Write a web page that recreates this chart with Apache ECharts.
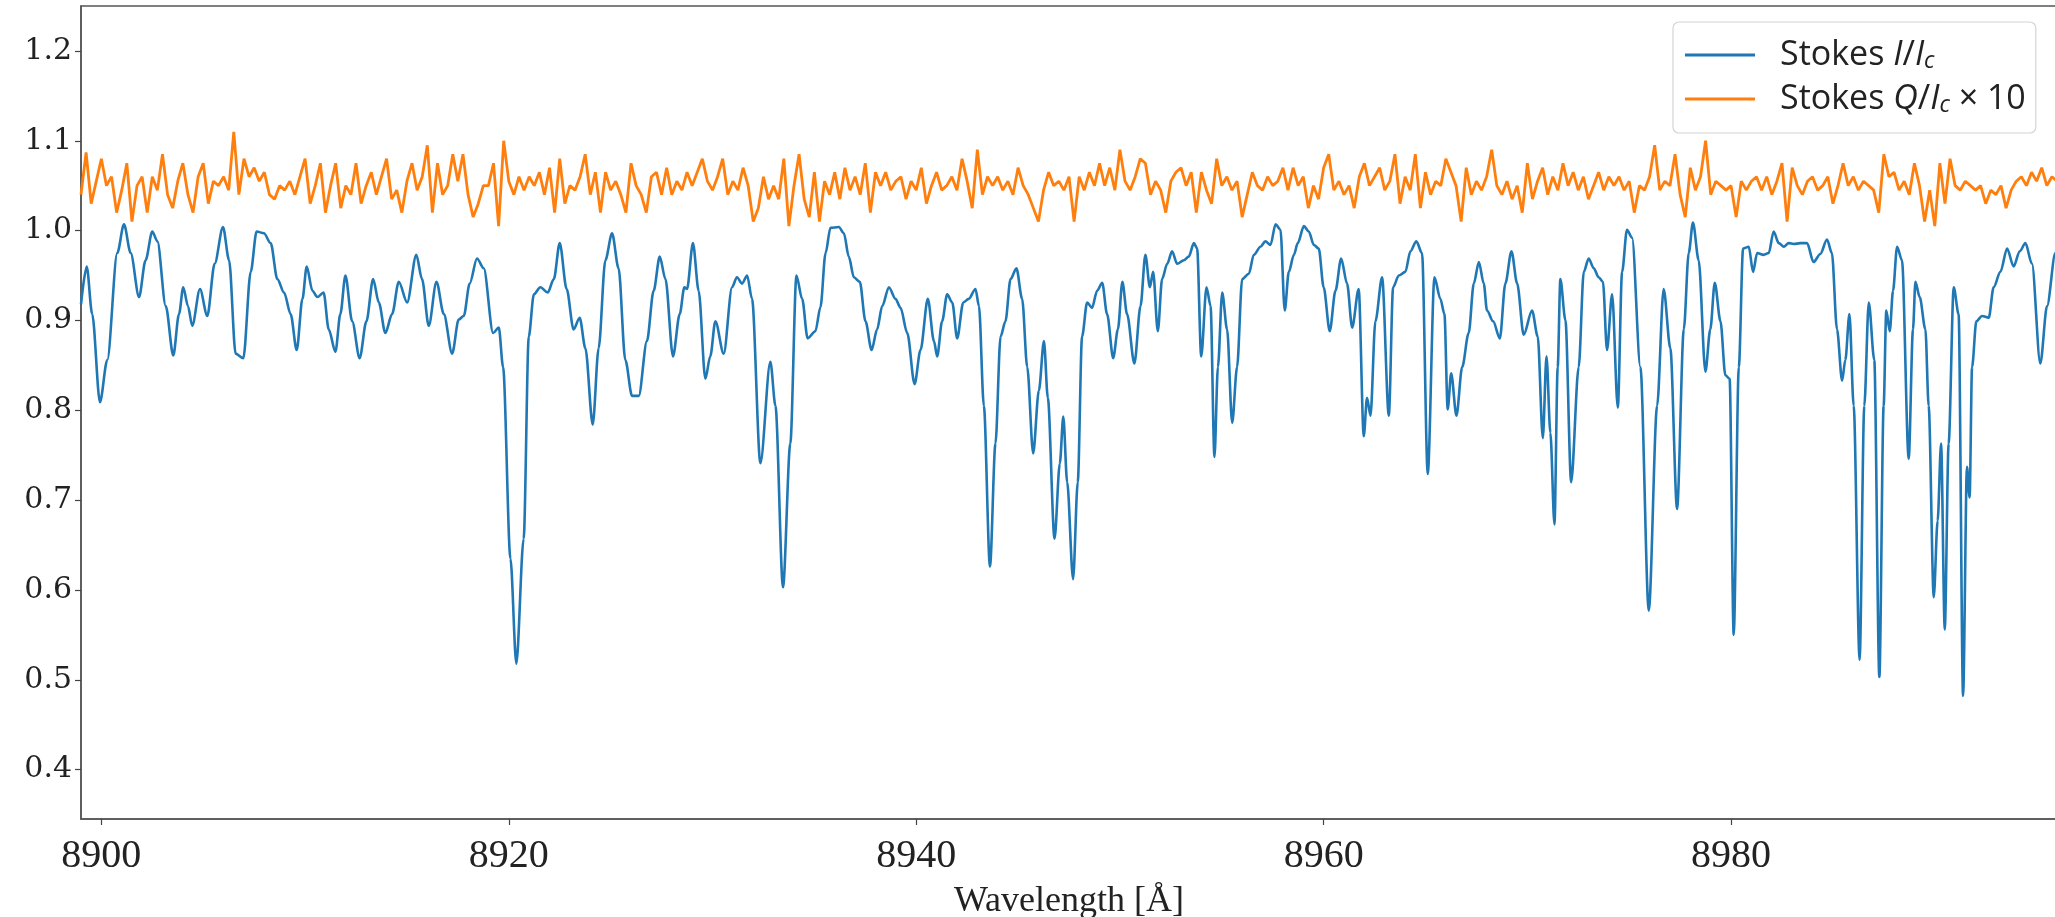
<!DOCTYPE html>
<html>
<head>
<meta charset="utf-8">
<title>Stokes spectrum</title>
<script src="https://cdn.jsdelivr.net/npm/echarts@6/dist/echarts.min.js"></script>
<style>
  html, body { margin: 0; padding: 0; background: #fff; }
  #chart { width: 2055px; height: 917px; }
</style>
</head>
<body>
<div id="chart"></div>
<script>
// Stokes I/Ic (wavelength in Angstrom)
var iWave = [
  8899.00, 8899.28, 8899.55, 8899.93, 8900.29, 8900.78, 8901.11, 8901.44,
  8901.85, 8902.17, 8902.50, 8902.75, 8903.16, 8903.53, 8903.81, 8904.02,
  8904.25, 8904.46, 8904.84, 8905.20, 8905.56, 8905.97, 8906.27, 8906.59,
  8906.97, 8907.33, 8907.62, 8907.98, 8908.31, 8908.64, 8908.97, 8909.29,
  8909.59, 8909.87, 8910.08, 8910.36, 8910.60, 8910.91, 8911.16, 8911.49,
  8911.73, 8911.98, 8912.31, 8912.68, 8913.01, 8913.34, 8913.62, 8913.94,
  8914.27, 8914.60, 8915.01, 8915.46, 8915.74, 8916.07, 8916.45, 8916.81,
  8917.22, 8917.54, 8917.79, 8918.08, 8918.44, 8918.77, 8919.23, 8919.51,
  8919.72, 8920.08, 8920.37, 8920.73, 8920.98, 8921.23, 8921.55, 8921.91,
  8922.21, 8922.50, 8922.84, 8923.18, 8923.48, 8923.76, 8924.12, 8924.41,
  8924.74, 8925.07, 8925.39, 8925.72, 8926.05, 8926.38, 8926.78, 8927.11,
  8927.41, 8927.69, 8928.06, 8928.39, 8928.62, 8928.75, 8929.04, 8929.32,
  8929.65, 8929.89, 8930.14, 8930.55, 8930.96, 8931.20, 8931.45, 8931.70,
  8931.94, 8932.35, 8932.84, 8933.09, 8933.46, 8933.82, 8934.12, 8934.40,
  8934.67, 8935.05, 8935.30, 8935.55, 8935.79, 8936.20, 8936.45, 8936.69,
  8936.94, 8937.23, 8937.51, 8937.81, 8938.08, 8938.33, 8938.66, 8938.98,
  8939.23, 8939.56, 8939.92, 8940.21, 8940.57, 8940.87, 8941.03, 8941.27,
  8941.52, 8941.77, 8942.01, 8942.31, 8942.58, 8942.91, 8943.08, 8943.32,
  8943.62, 8943.89, 8944.14, 8944.38, 8944.63, 8944.92, 8945.20, 8945.45,
  8945.74, 8946.02, 8946.27, 8946.46, 8946.79, 8947.05, 8947.22, 8947.41,
  8947.70, 8947.93, 8948.14, 8948.39, 8948.63, 8948.88, 8949.13, 8949.37,
  8949.67, 8949.90, 8950.12, 8950.35, 8950.71, 8951.01, 8951.25, 8951.47,
  8951.63, 8951.86, 8952.07, 8952.32, 8952.56, 8952.81, 8953.14, 8953.38,
  8953.63, 8953.79, 8953.99, 8954.25, 8954.45, 8954.64, 8954.81, 8955.02,
  8955.26, 8955.51, 8955.75, 8956.00, 8956.33, 8956.57, 8956.90, 8957.14,
  8957.39, 8957.64, 8957.88, 8958.09, 8958.29, 8958.54, 8958.73, 8959.03,
  8959.27, 8959.52, 8959.76, 8960.00, 8960.30, 8960.58, 8960.86, 8961.15,
  8961.40, 8961.72, 8961.97, 8962.13, 8962.30, 8962.54, 8962.87, 8963.20,
  8963.41, 8963.69, 8964.01, 8964.26, 8964.55, 8964.83, 8965.11, 8965.44,
  8965.73, 8965.93, 8966.09, 8966.26, 8966.52, 8966.80, 8967.12, 8967.37,
  8967.62, 8967.86, 8968.02, 8968.32, 8968.65, 8968.92, 8969.22, 8969.50,
  8969.82, 8970.23, 8970.51, 8970.76, 8970.94, 8971.13, 8971.33, 8971.49,
  8971.62, 8971.87, 8972.15, 8972.52, 8972.77, 8973.01, 8973.26, 8973.50,
  8973.71, 8973.91, 8974.16, 8974.44, 8974.65, 8974.89, 8975.14, 8975.55,
  8975.96, 8976.37, 8976.69, 8977.02, 8977.35, 8977.68, 8977.92, 8978.13,
  8978.41, 8978.74, 8978.98, 8979.20, 8979.48, 8979.72, 8979.93, 8980.13,
  8980.38, 8980.59, 8980.87, 8981.08, 8981.28, 8981.60, 8981.85, 8982.09,
  8982.34, 8982.59, 8982.83, 8983.08, 8983.40, 8983.73, 8984.05, 8984.38,
  8984.71, 8984.95, 8985.20, 8985.45, 8985.61, 8985.81, 8986.02, 8986.31,
  8986.54, 8986.76, 8987.03, 8987.28, 8987.49, 8987.62, 8987.79, 8987.95,
  8988.15, 8988.39, 8988.72, 8988.93, 8989.05, 8989.26, 8989.54, 8989.70,
  8989.95, 8990.14, 8990.31, 8990.49, 8990.68, 8990.93, 8991.17, 8991.39,
  8991.58, 8991.71, 8991.83, 8992.04, 8992.32, 8992.65, 8992.89, 8993.22,
  8993.55, 8993.87, 8994.17, 8994.45, 8994.77, 8995.18, 8995.51, 8995.92,
  8996.00
];
var iFlux = [
  0.918, 0.960, 0.907, 0.809, 0.856, 0.975, 1.007, 0.975,
  0.926, 0.967, 0.999, 0.988, 0.916, 0.861, 0.907, 0.937,
  0.916, 0.894, 0.935, 0.905, 0.963, 1.004, 0.967, 0.863,
  0.858, 0.954, 0.999, 0.997, 0.986, 0.946, 0.931, 0.907,
  0.867, 0.924, 0.960, 0.933, 0.926, 0.931, 0.890, 0.865,
  0.907, 0.950, 0.899, 0.858, 0.899, 0.946, 0.920, 0.886,
  0.907, 0.943, 0.920, 0.973, 0.946, 0.894, 0.943, 0.907,
  0.863, 0.901, 0.905, 0.941, 0.969, 0.958, 0.886, 0.892,
  0.848, 0.635, 0.518, 0.657, 0.882, 0.929, 0.937, 0.931,
  0.946, 0.986, 0.935, 0.890, 0.903, 0.869, 0.784, 0.869,
  0.967, 0.997, 0.958, 0.856, 0.816, 0.816, 0.877, 0.933,
  0.971, 0.946, 0.860, 0.907, 0.937, 0.935, 0.986, 0.933,
  0.835, 0.860, 0.899, 0.863, 0.937, 0.948, 0.941, 0.950,
  0.924, 0.741, 0.854, 0.805, 0.603, 0.763, 0.950, 0.924,
  0.880, 0.888, 0.915, 0.975, 1.003, 1.004, 0.997, 0.971,
  0.948, 0.943, 0.899, 0.867, 0.890, 0.916, 0.937, 0.924,
  0.914, 0.886, 0.829, 0.867, 0.924, 0.877, 0.860, 0.899,
  0.929, 0.920, 0.880, 0.920, 0.924, 0.935, 0.916, 0.805,
  0.626, 0.763, 0.882, 0.899, 0.946, 0.958, 0.924, 0.848,
  0.752, 0.822, 0.877, 0.814, 0.657, 0.741, 0.793, 0.720,
  0.612, 0.720, 0.882, 0.920, 0.914, 0.933, 0.942, 0.907,
  0.858, 0.890, 0.943, 0.907, 0.852, 0.916, 0.973, 0.937,
  0.954, 0.888, 0.946, 0.963, 0.977, 0.963, 0.967, 0.971,
  0.986, 0.980, 0.860, 0.937, 0.916, 0.748, 0.848, 0.931,
  0.890, 0.786, 0.848, 0.946, 0.952, 0.973, 0.982, 0.988,
  0.984, 1.007, 1.001, 0.911, 0.954, 0.973, 0.986, 1.005,
  0.999, 0.984, 0.980, 0.937, 0.888, 0.933, 0.969, 0.941,
  0.892, 0.935, 0.771, 0.814, 0.794, 0.899, 0.948, 0.794,
  0.937, 0.950, 0.954, 0.977, 0.988, 0.975, 0.729, 0.948,
  0.924, 0.907, 0.801, 0.841, 0.794, 0.848, 0.886, 0.941,
  0.965, 0.941, 0.911, 0.899, 0.880, 0.941, 0.977, 0.941,
  0.884, 0.911, 0.882, 0.769, 0.860, 0.775, 0.673, 0.848,
  0.946, 0.900, 0.720, 0.848, 0.954, 0.969, 0.958, 0.948,
  0.943, 0.867, 0.929, 0.803, 0.954, 1.001, 0.992, 0.848,
  0.577, 0.805, 0.935, 0.869, 0.690, 0.890, 0.975, 1.009,
  0.967, 0.843, 0.890, 0.942, 0.899, 0.839, 0.835, 0.550,
  0.848, 0.980, 0.982, 0.954, 0.975, 0.973, 0.975, 0.999,
  0.986, 0.982, 0.986, 0.985, 0.986, 0.986, 0.965, 0.974,
  0.990, 0.975, 0.890, 0.833, 0.856, 0.907, 0.805, 0.522,
  0.805, 0.920, 0.856, 0.503, 0.805, 0.911, 0.888, 0.933,
  0.982, 0.967, 0.746, 0.890, 0.943, 0.926, 0.890, 0.805,
  0.592, 0.677, 0.763, 0.556, 0.763, 0.937, 0.907, 0.482,
  0.737, 0.703, 0.848, 0.899, 0.905, 0.903, 0.937, 0.954,
  0.980, 0.960, 0.977, 0.986, 0.963, 0.852, 0.916, 0.975,
  0.978
];

// Stokes Q/Ic x 10, sampled every 0.25 A from 8899.0 (one row per 2 A)
var qStart = 8899.0;
var qStep = 0.25;
var qFlux = [
  1.040, 1.087, 1.030, 1.055,  1.080, 1.050, 1.060, 1.020,
  1.045, 1.075, 1.010, 1.050,  1.060, 1.020, 1.060, 1.045,
  1.085, 1.040, 1.025, 1.055,  1.075, 1.040, 1.020, 1.060,
  1.075, 1.030, 1.055, 1.050,  1.060, 1.045, 1.110, 1.040,
  1.080, 1.060, 1.070, 1.055,  1.065, 1.040, 1.035, 1.050,
  1.045, 1.055, 1.040, 1.060,  1.080, 1.030, 1.050, 1.075,
  1.020, 1.050, 1.075, 1.025,  1.050, 1.040, 1.075, 1.030,
  1.050, 1.065, 1.040, 1.060,  1.080, 1.035, 1.045, 1.020,
  1.055, 1.075, 1.045, 1.060,  1.095, 1.020, 1.075, 1.040,
  1.050, 1.085, 1.055, 1.085,  1.040, 1.015, 1.030, 1.050,
  1.050, 1.075, 1.005, 1.100,  1.055, 1.040, 1.060, 1.045,
  1.060, 1.050, 1.065, 1.040,  1.070, 1.020, 1.080, 1.030,
  1.050, 1.045, 1.060, 1.085,  1.040, 1.065, 1.020, 1.065,
  1.045, 1.055, 1.040, 1.020,  1.075, 1.050, 1.040, 1.020,
  1.060, 1.065, 1.040, 1.070,  1.040, 1.055, 1.045, 1.065,
  1.050, 1.065, 1.080, 1.055,  1.045, 1.060, 1.080, 1.040,
  1.055, 1.045, 1.070, 1.050,  1.010, 1.025, 1.060, 1.035,
  1.050, 1.035, 1.080, 1.005,  1.050, 1.085, 1.035, 1.015,
  1.065, 1.010, 1.055, 1.040,  1.065, 1.035, 1.070, 1.045,
  1.060, 1.040, 1.075, 1.020,  1.065, 1.050, 1.065, 1.045,
  1.055, 1.060, 1.035, 1.055,  1.045, 1.070, 1.030, 1.050,
  1.065, 1.045, 1.050, 1.060,  1.045, 1.080, 1.055, 1.025,
  1.090, 1.040, 1.060, 1.050,  1.060, 1.045, 1.055, 1.040,
  1.070, 1.050, 1.040, 1.025,  1.010, 1.045, 1.065, 1.050,
  1.055, 1.045, 1.060, 1.010,  1.060, 1.045, 1.065, 1.050,
  1.075, 1.050, 1.070, 1.045,  1.090, 1.055, 1.045, 1.060,
  1.080, 1.075, 1.040, 1.055,  1.045, 1.020, 1.055, 1.065,
  1.070, 1.050, 1.065, 1.020,  1.065, 1.045, 1.030, 1.080,
  1.050, 1.060, 1.045, 1.055,  1.015, 1.040, 1.065, 1.050,
  1.045, 1.060, 1.050, 1.055,  1.070, 1.045, 1.070, 1.050,
  1.060, 1.025, 1.050, 1.035,  1.070, 1.085, 1.045, 1.055,
  1.040, 1.050, 1.025, 1.060,  1.075, 1.050, 1.060, 1.070,
  1.045, 1.055, 1.085, 1.030,  1.060, 1.045, 1.085, 1.025,
  1.065, 1.040, 1.055, 1.050,  1.080, 1.065, 1.050, 1.010,
  1.070, 1.040, 1.055, 1.045,  1.060, 1.090, 1.050, 1.040,
  1.055, 1.035, 1.050, 1.020,  1.075, 1.035, 1.055, 1.070,
  1.040, 1.060, 1.045, 1.075,  1.050, 1.065, 1.045, 1.060,
  1.035, 1.050, 1.065, 1.045,  1.060, 1.050, 1.060, 1.045,
  1.055, 1.020, 1.050, 1.045,  1.060, 1.095, 1.045, 1.055,
  1.050, 1.085, 1.040, 1.015,  1.070, 1.045, 1.060, 1.100,
  1.040, 1.055, 1.050, 1.045,  1.050, 1.015, 1.055, 1.045,
  1.055, 1.060, 1.045, 1.060,  1.040, 1.055, 1.075, 1.010,
  1.070, 1.050, 1.040, 1.055,  1.060, 1.045, 1.050, 1.060,
  1.030, 1.050, 1.075, 1.050,  1.060, 1.045, 1.055, 1.050,
  1.045, 1.020, 1.085, 1.060,  1.065, 1.045, 1.055, 1.040,
  1.075, 1.050, 1.010, 1.045,  1.005, 1.075, 1.030, 1.080,
  1.050, 1.045, 1.055, 1.050,  1.045, 1.050, 1.030, 1.045,
  1.040, 1.050, 1.025, 1.045,  1.055, 1.060, 1.050, 1.065,
  1.055, 1.070, 1.050, 1.060,  1.055
];

var xTicks = [8900, 8920, 8940, 8960, 8980];
var yTicks = [0.4, 0.5, 0.6, 0.7, 0.8, 0.9, 1.0, 1.1, 1.2];

var iName = 'Stokes I/Ic';
var qName = 'Stokes Q/Ic × 10';

var chart = echarts.init(document.getElementById('chart'));

var option = {
  animation: false,
  backgroundColor: '#fff',
  grid: {
    left: 81, right: -2, top: 6, bottom: 98,
    outerBoundsMode: 'none',
    show: true,
    borderColor: '#555',
    borderWidth: 1.5
  },
  legend: {
    data: [iName, qName],
    orient: 'vertical',
    left: 1673,
    top: 22,
    icon: 'rect',
    itemWidth: 70,
    itemHeight: 3,
    itemGap: 8,
    padding: [15, 10, 16, 12],
    backgroundColor: 'rgba(255,255,255,0.85)',
    borderColor: '#d4d4d4',
    borderWidth: 1.2,
    borderRadius: 6,
    formatter: function (name) {
      if (name === iName) return 'Stokes {i|I}/{i|I}{s|c}';
      return 'Stokes {i|Q}/{i|I}{s|c} × 10';
    },
    textStyle: {
      fontFamily: 'Open Sans',
      fontSize: 34,
      lineHeight: 36,
      color: '#222',
      padding: [0, 0, 0, 20],
      rich: {
        i: { fontFamily: 'Open Sans', fontStyle: 'italic', fontSize: 34, lineHeight: 36, color: '#222' },
        s: { fontFamily: 'Open Sans', fontStyle: 'italic', fontSize: 23, lineHeight: 18, verticalAlign: 'bottom', color: '#222' }
      }
    }
  },
  xAxis: {
    type: 'value',
    min: 8899,
    max: 8996,
    axisLine: { show: true, onZero: false, lineStyle: { color: '#555', width: 1.5 } },
    axisTick: { show: true, customValues: xTicks, length: 6, lineStyle: { color: '#444', width: 1.2 } },
    axisLabel: {
      customValues: xTicks,
      fontFamily: 'Liberation Serif',
      fontSize: 40,
      color: '#222',
      margin: 17,
      formatter: function (v) { return String(v); }
    },
    splitLine: { show: false },
    name: 'Wavelength [Å]',
    nameLocation: 'middle',
    nameGap: 65,
    nameTextStyle: { fontFamily: 'Liberation Serif', fontSize: 36, color: '#222' }
  },
  yAxis: {
    type: 'value',
    min: 0.345,
    max: 1.25,
    axisLine: { show: true, onZero: false, lineStyle: { color: '#555', width: 1.5 } },
    axisTick: { show: true, customValues: yTicks, length: 6, lineStyle: { color: '#444', width: 1.2 } },
    axisLabel: {
      customValues: yTicks,
      fontFamily: 'DejaVu Serif',
      fontSize: 30,
      color: '#222',
      margin: 9,
      formatter: function (v) { return v.toFixed(1); }
    },
    splitLine: { show: false }
  },
  series: [
    {
      name: iName,
      type: 'line',
      data: iWave.map(function (w, k) { return [w, iFlux[k]]; }),
      symbol: 'none',
      smooth: 0.3,
      smoothMonotone: 'x',
      lineStyle: { color: '#1f77b4', width: 2.6 },
      itemStyle: { color: '#1f77b4' },
      z: 2
    },
    {
      name: qName,
      type: 'line',
      data: qFlux.map(function (v, k) { return [qStart + k * qStep, v]; }),
      symbol: 'none',
      lineStyle: { color: '#ff7f0e', width: 2.8 },
      itemStyle: { color: '#ff7f0e' },
      z: 3
    }
  ]
};

chart.setOption(option);
</script>
</body>
</html>
